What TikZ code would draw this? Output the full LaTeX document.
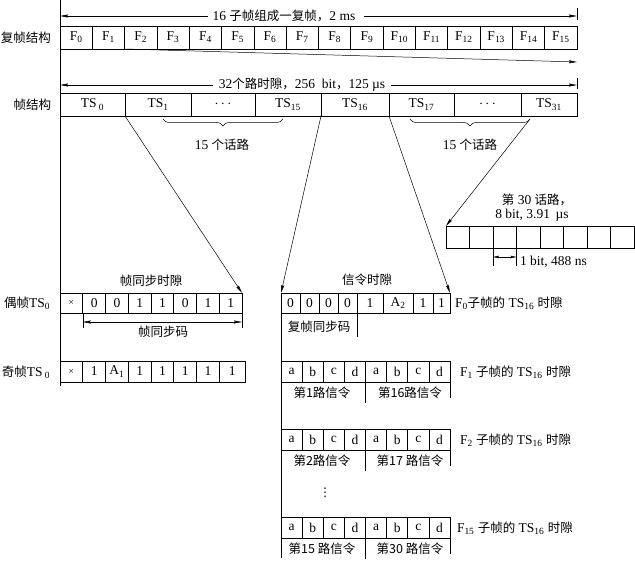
\documentclass[tikz,border=0pt]{standalone}
\usepackage{fontspec}
\setmainfont{Liberation Serif}
\newfontfamily\cjk{Noto Sans CJK SC}
\newfontfamily\djv{DejaVu Sans}
\usetikzlibrary{arrows.meta,decorations.pathreplacing}
\newcommand{\sbs}[1]{\textsubscript{#1}}
\newcommand{\zh}[1]{{\cjk\fontsize{12.5}{14}\selectfont #1}}
\newcommand{\smx}{{\fontsize{9.5}{10}\selectfont ×}}
\newcommand{\cellat}[6]{\node[cell, minimum width=#3pt-#2pt, minimum height=#5pt-#4pt] (#1) at ({(#2+#3)/2},{(#4+#5)/2}) {#6};}
\begin{document}
\begin{tikzpicture}[x=1pt,y=-1pt,line width=0.55pt,
  every node/.style={font=\fontsize{13.5}{15}\selectfont, inner sep=0pt, outer sep=0pt},
  cell/.style={draw, line width=0.75pt},
  arr/.style={-{Stealth[length=8pt,width=3pt,inset=1pt]}},
  darr/.style={{Stealth[length=8pt,width=3pt,inset=1pt]}-{Stealth[length=8pt,width=3pt,inset=1pt]}},
  sarr/.style={{Stealth[length=6pt,width=2.6pt,inset=0.8pt]}-{Stealth[length=6pt,width=2.6pt,inset=0.8pt]}},
  thin line/.style={line width=0.5pt}]
\useasboundingbox (0,0) rectangle (635,561);

% ---------- multiframe ----------
\foreach \i in {0,...,15} {
  \pgfmathsetmacro\xa{60+32.3125*\i}
  \pgfmathsetmacro\xb{\xa+32.3125}
  \cellat{f\i}{\xa}{\xb}{26}{49}{F\sbs{\i}}
}
\node[anchor=east] (lm) at (51,38) {\zh{复帧结构}};

% long left line
\coordinate (vtop) at (60,0);
\coordinate (vbot) at (60,386);
\draw (vtop) -- (vbot);

% arrow 16 subframes
\node (t1) at (284,16) {16 \zh{子帧组成一复帧，}2 ms};
\coordinate (a1l) at (60,16);
\coordinate (a1r) at (577,16);
\coordinate (k1a) at (577,8);
\coordinate (k1b) at (577,20);
\draw[arr] ([xshift=-5pt]t1.west) -- (a1l);
\draw[arr] ([xshift=9pt]t1.east) -- (a1r);
\draw (k1a) -- (k1b);

% diagonal from F1
\coordinate (d1e) at (577,62);
\draw[arr,thin line] (f1.south east) -- (d1e);

% arrow 32 timeslots
\node (t2) at (302,85) {32\zh{个路时隙，}256\ \ bit\zh{，}125 µs};
\coordinate (a2l) at (60,85);
\coordinate (a2r) at (577,85);
\coordinate (k2a) at (577,78);
\coordinate (k2b) at (577,89);
\draw[arr] ([xshift=-6pt]t2.west) -- (a2l);
\draw[arr] ([xshift=6pt]t2.east) -- (a2r);
\draw (k2a) -- (k2b);

% ---------- frame ----------
\cellat{ts0}{60}{125}{93}{116}{TS\,\sbs{0}}
\cellat{ts1}{125}{191}{93}{116}{TS\sbs{1}}
\cellat{tsa}{191}{255}{93}{116}{$\cdots$}
\cellat{ts15}{255}{321}{93}{116}{TS\sbs{15}}
\cellat{ts16}{321}{389}{93}{116}{TS\sbs{16}}
\cellat{ts17}{389}{454}{93}{116}{TS\sbs{17}}
\cellat{tsb}{454}{521}{93}{116}{$\cdots$}
\cellat{ts31}{521}{577}{93}{116}{TS\sbs{31}}
\node[anchor=east] (lf) at (51,105) {\zh{帧结构}};

% braces
\coordinate (bl1) at (163,119);
\coordinate (bl2) at (283,119);
\coordinate (br1) at (410,119);
\coordinate (br2) at (530,119);
\draw[thin line, decorate, decoration={brace, mirror, amplitude=7pt}] (bl1) -- (bl2);
\draw[thin line, decorate, decoration={brace, mirror, amplitude=7pt}] (br1) -- (br2);
\node (lb1) at (222,145) {15 \zh{个话路}};
\node (lb2) at (470,145) {15 \zh{个话路}};

% ---------- 8-bit channel 30 ----------
\foreach \i in {0,...,7} {
  \pgfmathsetmacro\xa{446+23.5*\i}
  \pgfmathsetmacro\xb{\xa+23.5}
  \cellat{b\i}{\xa}{\xb}{226}{248}{}
}
\node (t30a) at (537,200) {\zh{第} 30 \zh{话路，}};
\node (t30b) at (532,215) {8 bit, 3.91 \,µs};
\coordinate (q1t) at (493,266);
\coordinate (q2t) at (516.5,266);
\coordinate (q1) at (493,257);
\coordinate (q2) at (516.5,257);
\draw[thin line] (b2.south west) -- (q1t);
\draw[thin line] (b2.south east) -- (q2t);
\draw[sarr,thin line] (q1) -- (q2);
\node[anchor=west] (t1bit) at (520,262) {1 bit, 488 ns};

% ---------- even frame TS0 ----------
\foreach \t [count=\i from 0] in {\smx,0,0,1,1,0,1,1} {
  \pgfmathsetmacro\xa{60+22.75*\i}
  \pgfmathsetmacro\xb{\xa+22.75}
  \cellat{e\i}{\xa}{\xb}{293}{313}{\t}
}
\node[anchor=east] (le) at (50,303) {\zh{偶帧}TS\sbs{0}};
\node (tsync) at (151,281) {\zh{帧同步时隙}};
\coordinate (s1t) at (82.75,328);
\coordinate (s2t) at (242,328);
\coordinate (s1) at (82.75,322);
\coordinate (s2) at (242,322);
\draw[thin line] (e1.south west) -- (s1t);
\draw[thin line] (e7.south east) -- (s2t);
\draw[darr,thin line] (s1) -- (s2);
\node (tsc) at (163,332) {\zh{帧同步码}};

% ---------- odd frame TS0 ----------
\foreach \t [count=\i from 0] in {\smx,1,A\sbs{1},1,1,1,1} {
  \pgfmathsetmacro\xa{60+22.75*\i}
  \pgfmathsetmacro\xb{\xa+22.75}
  \cellat{o\i}{\xa}{\xb}{361}{382}{\t}
}
\cellat{o7}{219.25}{245}{361}{382}{1}
\node[anchor=east] (lo) at (50,372) {\zh{奇帧}TS\,\sbs{0}};

% ---------- F0 TS16 ----------
\cellat{s0}{281}{300}{293}{313}{0}
\cellat{s1c}{300}{319}{293}{313}{0}
\cellat{s2c}{319}{338}{293}{313}{0}
\cellat{s3}{338}{357}{293}{313}{0}
\cellat{s4}{357}{383}{293}{313}{1}
\cellat{s5}{383}{413}{293}{313}{A\sbs{2}}
\cellat{s6}{413}{433}{293}{313}{1}
\cellat{s7}{433}{450}{293}{313}{1}
\node (tsig) at (367,280) {\zh{信令时隙}};
\node (tmsync) at (319,327) {\zh{复帧同步码}};
\coordinate (mst) at (357,337);
\draw[thin line] (s3.south east) -- (mst);
\node[anchor=west] (r0) at (455,303) {F\sbs{0}\zh{子帧的} TS\sbs{16} \zh{时隙}};
\coordinate (lbot) at (281,558);
\draw (s0.south west) -- (lbot);

% ---------- F1, F2, F15 TS16 ----------
\foreach \r/\ya/\yb/\la/\lb/\rx in {1/361/382/{第1路信令}/{第16路信令}/460, 2/429/450/{第2路信令}/{第17 路信令}/460, 15/517/538/{第15 路信令}/{第30 路信令}/457} {
  \foreach \t [count=\i from 0] in {a,b,c,d,a,b,c,d} {
    \pgfmathsetmacro\xa{281+21.125*\i}
    \pgfmathsetmacro\xb{\xa+21.125}
    \cellat{r\r c\i}{\xa}{\xb}{\ya}{\yb}{\t}
  }
  \pgfmathsetmacro\ym{\yb+21}
  \pgfmathsetmacro\yr{\yb+16}
  \pgfmathsetmacro\yl{\yb+11}
  \pgfmathsetmacro\yc{(\ya+\yb)/2+1}
  \coordinate (m\r) at (365.5,\ym);
  \coordinate (e\r) at (450,\yr);
  \draw[thin line] (r\r c3.south east) -- (m\r);
  \draw[thin line] (r\r c7.south east) -- (e\r);
  \node (la\r) at (322,\yl) {\zh{\la}};
  \node (lb\r) at (410,\yl) {\zh{\lb}};
  \node[anchor=west] (rl\r) at (\rx,\yc) {F\sbs{\r} \zh{子帧的} TS\sbs{16} \zh{时隙}};
}
\node (vd) at (325,493) {\djv\fontsize{12}{14}\selectfont ⋮};

% ---------- diagonal connectors ----------
\draw[arr,thin line] (ts0.south east) -- (e7.north east);
\draw[arr,thin line] (ts15.south east) -- (s0.north west);
\draw[arr,thin line] (ts16.south east) -- (s7.north east);
\draw[arr,thin line] (br2) -- (b0.north west);
\end{tikzpicture}
\end{document}
